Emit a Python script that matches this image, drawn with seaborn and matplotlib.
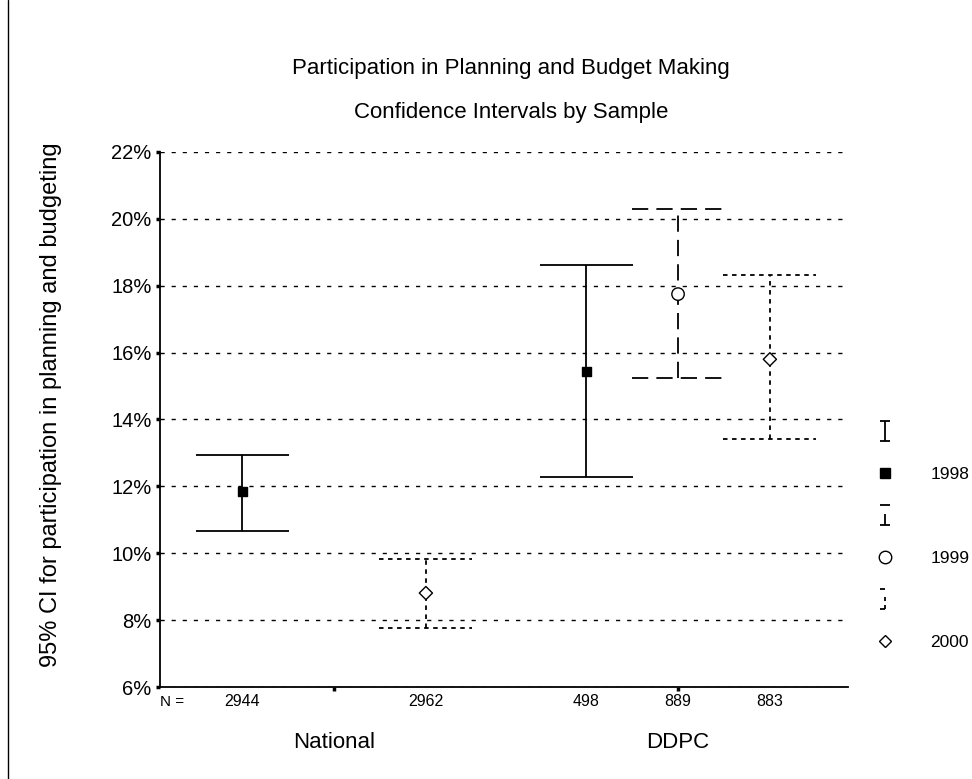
import numpy as np
import pandas as pd
import matplotlib
matplotlib.use("Agg")
import matplotlib.pyplot as plt
from matplotlib.lines import Line2D
from matplotlib.path import Path
import seaborn as sns

# data (percent)
samples = ["National", "National", "DDPC", "DDPC", "DDPC"]
years = ["1998", "2000", "1998", "1999", "2000"]
means = [11.84, 8.81, 15.45, 17.75, 15.80]
ci_low = [10.67, 7.75, 12.29, 15.25, 13.41]
ci_high = [12.93, 9.83, 18.62, 20.30, 18.32]
n_counts = [2944, 2962, 498, 889, 883]

group_order = ["National", "DDPC"]
year_order = ["1998", "1999", "2000"]
y_ticks = [6, 8, 10, 12, 14, 16, 18, 20, 22]

df = pd.DataFrame({
    "sample": samples, "year": years, "mean": means,
    "lo": ci_low, "hi": ci_high, "n": n_counts,
})
offset = 0.267
df["pos"] = [group_order.index(s) + (year_order.index(y) - 1) * offset
             for s, y in zip(df["sample"], df["year"])]

sns.set_theme(style="ticks")
plt.rcParams["font.family"] = ["Liberation Sans", "DejaVu Sans"]
plt.rcParams.update({"text.color": "black", "axes.labelcolor": "black",
                     "xtick.color": "black", "ytick.color": "black"})

fig = plt.figure(figsize=(9.72, 7.79), dpi=100)
ax = fig.add_axes([0.1646, 0.1181, 0.7078, 0.6868])

line_styles = {"1998": "-", "1999": (0, (9, 4.5)), "2000": (0, (2.5, 2.5))}
cap_half = 0.135

for yr in year_order:
    d = df[df["year"] == yr]
    if d.empty:
        continue
    ls = line_styles[yr]
    ax.vlines(d["pos"], d["lo"], d["hi"], colors="black", linewidth=1.3,
              linestyles=[ls], zorder=3)
    for col in ["lo", "hi"]:
        ax.hlines(d[col], d["pos"] - cap_half, d["pos"] + cap_half,
                  colors="black", linewidth=1.3, linestyles=[ls], zorder=3)

sns.scatterplot(
    data=df, x="pos", y="mean", hue="year", style="year", size="year",
    hue_order=year_order, style_order=year_order,
    palette={"1998": "black", "1999": "white", "2000": "white"},
    markers={"1998": "s", "1999": "o", "2000": "D"},
    sizes={"1998": 42, "1999": 80, "2000": 45},
    edgecolor="black", linewidth=1, legend=False, zorder=4, ax=ax,
)

ax.set_xlim(-0.506, 1.494)
ax.set_ylim(6, 22)
ax.set_yticks(y_ticks)
ax.set_yticklabels([f"{t}%" for t in y_ticks], fontsize=14.5)
ax.set_xticks(range(len(group_order)))
ax.set_xticklabels([])
ax.tick_params(axis="both", length=3, width=2.5, color="black", pad=3)
ax.yaxis.grid(True, color="black", linewidth=1, linestyle=(0, (3, 5)))
ax.xaxis.grid(False)
for side in ["top", "right"]:
    ax.spines[side].set_visible(False)
for side in ["left", "bottom"]:
    ax.spines[side].set_color("black")
    ax.spines[side].set_linewidth(1.3)

ax.set_xlabel("")
ax.set_ylabel("95% CI for participation in planning and budgeting", fontsize=17)
ax.yaxis.set_label_coords(-0.142, 0.527)

# N counts and group names under the axis
trans = ax.get_xaxis_transform()
ax.text(0.0, -0.028, "N =", transform=ax.transAxes, ha="left", va="center",
        fontsize=11)
for p, n in zip(df["pos"], df["n"]):
    ax.text(p, -0.028, str(n), transform=trans, ha="center", va="center",
            fontsize=11.5)
for i, g in enumerate(group_order):
    ax.text(i, -0.103, g, transform=trans, ha="center", va="center",
            fontsize=16)

fig.text(0.526, 0.9127, "Participation in Planning and Budget Making",
         ha="center", va="center", fontsize=16)
fig.text(0.526, 0.8562, "Confidence Intervals by Sample",
         ha="center", va="center", fontsize=16)

# legend: error bar glyph above marker for each year
M, L = Path.MOVETO, Path.LINETO
glyphs = {
    "1998": Path([(-0.5, 1), (0.5, 1), (0, 1), (0, -1), (-0.5, -1), (0.5, -1)],
                 [M, L, M, L, M, L]),
    "1999": Path([(-0.5, 1), (0.5, 1), (0, 0.1), (0, -1), (-0.5, -1), (0.5, -1)],
                 [M, L, M, L, M, L]),
    "2000": Path([(-0.5, 1), (0, 1), (0, 0.2), (0, -0.2), (0, -0.6), (0, -1),
                  (0, -1), (-0.5, -1)],
                 [M, L, M, L, M, L, M, L]),
}
leg_markers = {"1998": ("s", "black", 7), "1999": ("o", "white", 9),
               "2000": ("D", "white", 6)}
handles, labels = [], []
for yr in year_order:
    handles.append(Line2D([], [], linestyle="none", marker=glyphs[yr],
                          markersize=15, markeredgecolor="black",
                          markerfacecolor="none", markeredgewidth=1.3))
    labels.append(" ")
    mk, fc, ms = leg_markers[yr]
    handles.append(Line2D([], [], linestyle="none", marker=mk, markersize=ms,
                          markerfacecolor=fc, markeredgecolor="black",
                          markeredgewidth=1))
    labels.append(yr)
fig.legend(handles, labels, loc="center left",
           bbox_to_anchor=(0.902, 0.31), frameon=False, fontsize=12.5,
           handlelength=0.9, handletextpad=2.2, labelspacing=1.55,
           borderpad=0, borderaxespad=0)

# thin border line at the far left of the picture
fig.add_artist(Line2D([0.008, 0.008], [0, 1], transform=fig.transFigure,
                      color="black", linewidth=1))

fig.savefig("out.png", dpi=100, facecolor="white")
